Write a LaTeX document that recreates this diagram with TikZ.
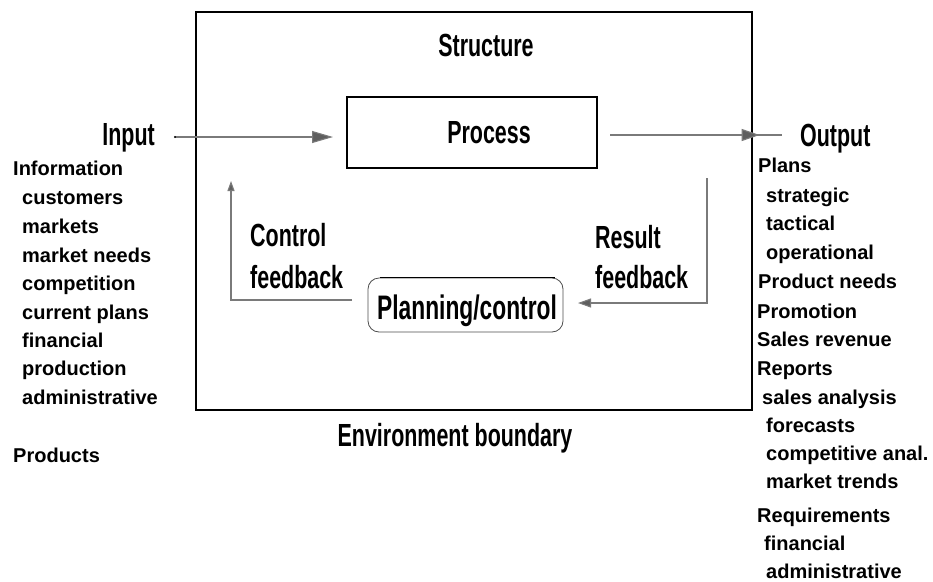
\documentclass[tikz,border=0pt]{standalone}
\usepackage{fontspec}
\usetikzlibrary{arrows.meta,decorations.markings}
\newfontfamily\titlefont[FakeStretch=0.67]{Liberation Sans}
\newfontfamily\listfont{Liberation Sans}
\definecolor{linkgray}{HTML}{7A7A7A}
\definecolor{tipgray}{HTML}{5E5E5E}
\tikzset{
  heading/.style={font=\titlefont\bfseries\fontsize{32}{34}\selectfont, inner sep=0pt,
    text height=23pt, text depth=0pt},
  entry/.style={font=\listfont\bfseries\fontsize{20}{22}\selectfont, inner sep=0pt,
    anchor=west, text height=14pt, text depth=0pt},
  boxline/.style={draw=black, line width=1.6pt},
  flow/.style={draw=linkgray, line width=1.1pt},
}
\begin{document}
\begin{tikzpicture}[x=1pt, y=-1pt]
\useasboundingbox (0,0) rectangle (933,581);

% system boundary and the process block
\draw[boxline, line width=2pt] (196,12) rectangle (752,410);
\node[boxline, minimum width=250pt, minimum height=71pt, inner sep=0pt] (proc) at (472,132.5) {};
\node[heading] (proclabel) at (489,132) {Process};
\node[heading] (struct) at (486,45) {Structure};
\node[heading] (envb) at (455,435) {Environment boundary};

% planning / control block
\node[draw=black!70, line width=0.8pt, rounded corners=11pt, minimum width=195pt,
      minimum height=54pt, inner sep=0pt] (plan) at (465.5,305) {};
\draw[black, line width=1.6pt] ([xshift=12pt]plan.north west) -- ([xshift=-8pt]plan.north east);
\node[heading, font=\titlefont\bfseries\fontsize{34}{36}\selectfont] (planlabel) at (467,308) {Planning/control};

% input side
\node[heading, anchor=east] (inlabel) at (155,134) {Input};
\coordinate (instart) at (175,137);
\coordinate (inend) at (333,137);
\draw[flow, -{Triangle[length=21pt,width=12pt,fill=tipgray]}, draw=linkgray] (instart) -- (inend);
\fill[black] (instart) circle (1.2pt);

% output side
\node[heading, anchor=west] (outlabel) at (800,135) {Output};
\coordinate (outstart) at (610,135);
\coordinate (outend) at (782,135);
\draw[flow, postaction={decorate}, decoration={markings,
   mark=at position 0.87 with {\arrow{Triangle[length=18pt,width=12pt,fill=tipgray]}}}]
   (outstart) -- (outend);

% control feedback loop
\node[heading, anchor=west] (ctrl1) at (250,235) {Control};
\node[heading, anchor=west] (ctrl2) at (250,277) {feedback};
\coordinate (cfstart) at (352,300);
\coordinate (cfend) at (231,181);
\draw[flow, -{Triangle[length=10pt,width=7pt,fill=tipgray]}] (cfstart) -| (cfend);

% result feedback loop
\node[heading, anchor=west] (res1) at (595,237) {Result};
\node[heading, anchor=west] (res2) at (595,277) {feedback};
\coordinate (rfstart) at (707,178);
\coordinate (rfend) at (578,303);
\draw[flow, -{Triangle[length=13pt,width=9pt,fill=tipgray]}] (rfstart) |- (rfend);

% inputs
\node[entry] (i1) at (13,168) {Information};
\node[entry] (i2) at (22,197) {customers};
\node[entry] (i3) at (22,226) {markets};
\node[entry] (i4) at (22,255) {market needs};
\node[entry] (i5) at (22,283) {competition};
\node[entry] (i6) at (22,312) {current plans};
\node[entry] (i7) at (22,340) {financial};
\node[entry] (i8) at (22,368) {production};
\node[entry] (i9) at (22,397) {administrative};
\node[entry] (i10) at (13,455) {Products};

% outputs
\node[entry] (o1) at (758,165) {Plans};
\node[entry] (o2) at (766,195) {strategic};
\node[entry] (o3) at (766,223) {tactical};
\node[entry] (o4) at (766,252) {operational};
\node[entry] (o5) at (758,281) {Product needs};
\node[entry] (o6) at (757,311) {Promotion};
\node[entry] (o7) at (757,339) {Sales revenue};
\node[entry] (o8) at (757,368) {Reports};
\node[entry] (o9) at (762,397) {sales analysis};
\node[entry] (o10) at (766,425) {forecasts};
\node[entry] (o11) at (766,453) {competitive anal.};
\node[entry] (o12) at (766,481) {market trends};
\node[entry] (o13) at (757,515) {Requirements};
\node[entry] (o14) at (764,543) {financial};
\node[entry] (o15) at (766,571) {administrative};
\end{tikzpicture}
\end{document}
